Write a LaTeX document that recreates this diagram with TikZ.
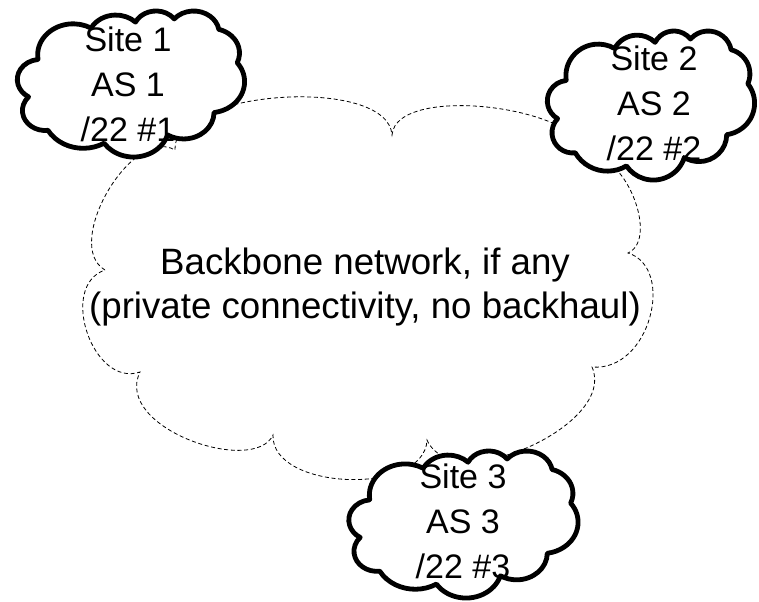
\documentclass[tikz,border=0pt]{standalone}
\usepackage{fontspec}
\setmainfont{Liberation Sans}
\tikzset{
  backbonecloud/.style={draw=black, line width=0.6pt, dash pattern=on 3pt off 2pt, fill=white},
  sitecloud/.style={draw=black, line width=3.6pt, fill=white, line join=round},
  sitelabel/.style={align=center, inner sep=0pt, font=\fontsize{25.5pt}{33.4pt}\selectfont},
  backbonelabel/.style={align=center, inner sep=0pt, font=\fontsize{27.5pt}{33pt}\selectfont},
}
% Cloud outline built from eleven elliptical arcs on a 43.2 x 43.2 grid,
% stretched into the box with top-left corner (#1,#2), width #3, height #4.
\newcommand{\drawsitecloud}[4]{%
  \pgfmathsetmacro{\scx}{#3*0.75/43.2}%
  \pgfmathsetmacro{\scy}{#4*0.75/43.2}%
  \draw[sitecloud, shift={(#1,#2)}, x=\scx pt, y=-\scy pt]
    (3.9,14.37)
    arc[start angle=-187.745, end angle=-59.63, x radius=6.753, y radius=9.19]
    arc[start angle=-152.02, end angle=-45.46, x radius=5.333, y radius=7.267]
    arc[start angle=-153.49, end angle=-37.35, x radius=4.365, y radius=5.945]
    arc[start angle=-139.71, end angle=-10.21, x radius=4.857, y radius=6.595]
    arc[start angle=-74.77, end angle=23.21, x radius=5.333, y radius=7.273]
    arc[start angle=-37.52, end angle=81.86, x radius=6.775, y radius=9.22]
    arc[start angle=0.46, end angle=121.98, x radius=5.785, y radius=7.867]
    arc[start angle=16.84, end angle=146.23, x radius=6.752, y radius=9.215]
    arc[start angle=58.98, end angle=150.19, x radius=7.72, y radius=10.543]
    arc[start angle=-276.69, end angle=-136.90, x radius=4.36, y radius=5.918]
    arc[start angle=-239.64, end angle=-95.89, x radius=4.345, y radius=5.945]
    -- cycle;%
}
\begin{document}
\begin{tikzpicture}[x=0.75pt, y=-0.75pt]
  \useasboundingbox (0,0) rectangle (759,601);

  % backbone cloud (dashed)
  \draw[backbonecloud]
    (105,270) .. controls (62,245) and (132,125) .. (175,150)
    .. controls (171,90) and (388,75) .. (392,135)
    .. controls (396,82) and (592,107) .. (588,160)
    .. controls (621,145) and (661,238) .. (628,253)
    .. controls (676,268) and (650,372) .. (592,367)
    .. controls (618,425) and (452,498) .. (427,440)
    .. controls (425,496) and (271,491) .. (273,435)
    .. controls (254,476) and (113,428) .. (140,372)
    .. controls (93,388) and (58,286) .. (105,270) -- cycle;
  % the base anchor of a multi-line node sits on its last line
  \node[backbonelabel, anchor=base] (backbone) at (365,318)
    {Backbone network, if any\\(private connectivity, no backhaul)};

  % site clouds
  \drawsitecloud{17.5}{10.5}{227}{146}
  \node[sitelabel, anchor=base] (site1) at (128,141) {Site 1\\AS 1\\/22 \#1};

  \drawsitecloud{547.5}{30.5}{207}{149}
  \node[sitelabel, anchor=base] (site2) at (654,160) {Site 2\\AS 2\\/22 \#2};

  \drawsitecloud{349}{450.5}{229}{147}
  \node[sitelabel, anchor=base] (site3) at (463,578) {Site 3\\AS 3\\/22 \#3};
\end{tikzpicture}
\end{document}
